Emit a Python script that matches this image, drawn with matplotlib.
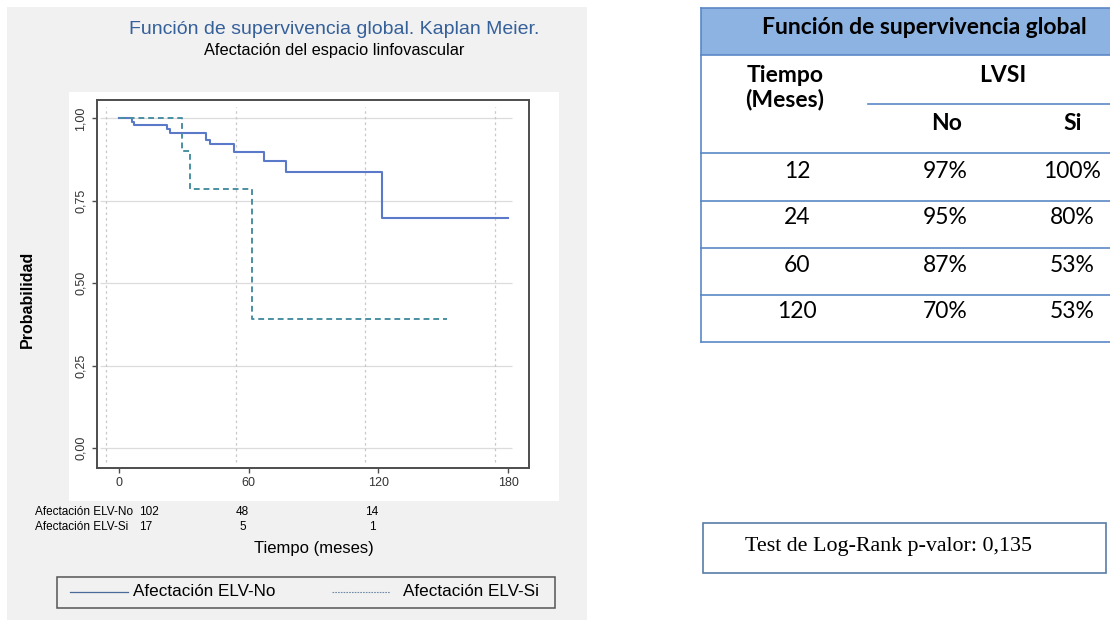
import matplotlib
matplotlib.use("Agg")
import matplotlib.pyplot as plt
from matplotlib.patches import Rectangle
from matplotlib.lines import Line2D
from matplotlib.transforms import blended_transform_factory

# Curvas de Kaplan-Meier: tiempo (meses) y supervivencia estimada
tiempo_no = [0, 6, 7, 22, 23.5, 40, 42, 53, 67, 77, 121.5, 180]
surv_no = [1.0, 0.99, 0.98, 0.967, 0.955, 0.935, 0.922, 0.899, 0.872, 0.838, 0.697, 0.697]
tiempo_si = [0, 29, 32.7, 61.6, 151.6]
surv_si = [1.0, 0.90, 0.786, 0.39, 0.39]

# Numero de pacientes en riesgo
riesgo_tiempos = [0, 60, 120]
riesgo_no = [102, 48, 14]
riesgo_si = [17, 5, 1]

# Tabla resumen de supervivencia (%)
tabla_tiempos = [12, 24, 60, 120]
tabla_no = [97, 95, 87, 70]
tabla_si = [100, 80, 53, 53]
p_valor = "0,135"

W, H = 1110, 620


def fx(px):
    return px / W


def fy(py):
    return 1 - py / H


fig = plt.figure(figsize=(W / 100, H / 100), dpi=100)
fig.patch.set_facecolor("white")

# fondo gris del panel de la izquierda y zona blanca del grafico
fig.patches.append(Rectangle((fx(7), fy(620)), fx(587) - fx(7), fy(7) - fy(620),
                             transform=fig.transFigure, facecolor="#f1f1f1", edgecolor="none", zorder=-3))
fig.patches.append(Rectangle((fx(69), fy(501)), fx(559) - fx(69), fy(92) - fy(501),
                             transform=fig.transFigure, facecolor="white", edgecolor="none", zorder=-2))

sans = "Liberation Sans"
fig.text(fx(334), fy(30), "Función de supervivencia global. Kaplan Meier.", ha="center", va="center",
         fontsize=14, color="#35609a", family=sans)
fig.text(fx(334), fy(50), "Afectación del espacio linfovascular", ha="center", va="center",
         fontsize=11.8, color="black", family=sans)

ax = fig.add_axes([fx(97), fy(468), fx(529) - fx(97), fy(100) - fy(468)])
ax.set_xlim(-10.3, 189.7)
ax.set_ylim(-0.061, 1.056)
ax.set_facecolor("white")
for s in ax.spines.values():
    s.set_color("#4d4d4d")
    s.set_linewidth(1.4)

ax.set_xticks([0, 60, 120, 180])
ax.set_yticks([0, 0.25, 0.5, 0.75, 1])
ax.set_yticklabels(["0,00", "0,25", "0,50", "0,75", "1,00"], rotation=90, va="center")
ax.tick_params(axis="both", length=3.5, width=1, color="#4d4d4d", labelsize=9, labelcolor="#333333")
ax.tick_params(axis="x", pad=3)
ax.tick_params(axis="y", pad=4)
for lab in ax.get_xticklabels() + ax.get_yticklabels():
    lab.set_family(sans)

# rejilla
grid_x = [-6, 54, 114, 174]
ax.hlines([0, 0.25, 0.5, 0.75, 1], -8.9, 181.8, color="#dcdcdc", lw=0.9, zorder=0)
ax.vlines(grid_x, -0.042, 1.035, color="#c8c8c8", lw=0.9, linestyle=(0, (2, 2.5)), zorder=0)

ax.step(tiempo_no, surv_no, where="post", color="#5a79c8", lw=1.5, zorder=3)
ax.step(tiempo_si, surv_si, where="post", color="#4b8fa2", lw=1.4, linestyle=(0, (3, 2)), zorder=3)

fig.text(fx(27), fy(299), "Probabilidad", rotation=90, ha="center", va="center",
         fontsize=11.5, fontweight="bold", color="black", family=sans)

# tabla de numero en riesgo
tr = blended_transform_factory(ax.transData, fig.transFigure)
fig.text(fx(35), fy(512), "Afectación ELV-No", ha="left", va="center", fontsize=8.5, family=sans)
fig.text(fx(35), fy(527), "Afectación ELV-Si", ha="left", va="center", fontsize=8.5, family=sans)
for i, t in enumerate(riesgo_tiempos):
    if i == 0:
        xpos, ha = t + 9, "left"
    else:
        xpos, ha = t - 3, "center"
    ax.text(xpos, fy(512), str(riesgo_no[i]), transform=tr, ha=ha, va="center", fontsize=8.5, family=sans)
    ax.text(xpos, fy(527), str(riesgo_si[i]), transform=tr, ha=ha, va="center", fontsize=8.5, family=sans)

fig.text(fx(314), fy(548), "Tiempo (meses)", ha="center", va="center", fontsize=12, family=sans)

# leyenda
fig.patches.append(Rectangle((fx(57), fy(608)), fx(555) - fx(57), fy(577) - fy(608),
                             transform=fig.transFigure, facecolor="#f1f1f1", edgecolor="#555555", lw=1.1))
fig.lines.append(Line2D([fx(70), fx(128)], [fy(592), fy(592)], transform=fig.transFigure,
                        color="#4a6a9a", lw=0.9))
fig.lines.append(Line2D([fx(332), fx(390)], [fy(592), fy(592)], transform=fig.transFigure,
                        color="#6f8aa8", lw=0.8, linestyle=(0, (1.5, 1))))
fig.text(fx(133), fy(592), "Afectación ELV-No", ha="left", va="center", fontsize=12.3, family=sans)
fig.text(fx(403), fy(592), "Afectación ELV-Si", ha="left", va="center", fontsize=12.3, family=sans)

# tabla resumen de la derecha
borde = "#5b87c5"
tfont = "Lato"
fs = 16.5
fig.patches.append(Rectangle((fx(701), fy(55)), fx(1112) - fx(701), fy(8) - fy(55),
                             transform=fig.transFigure, facecolor="#8db3e2", edgecolor="none"))
for yy in [8, 55, 153, 201, 248, 295, 342]:
    fig.lines.append(Line2D([fx(701), fx(1112)], [fy(yy), fy(yy)], transform=fig.transFigure,
                            color=borde, lw=1.2))
fig.lines.append(Line2D([fx(868), fx(1112)], [fy(104), fy(104)], transform=fig.transFigure,
                        color=borde, lw=1.2))
fig.lines.append(Line2D([fx(701), fx(701)], [fy(8), fy(342)], transform=fig.transFigure,
                        color=borde, lw=1.2))

fig.text(fx(924), fy(27), "Función de supervivencia global", ha="center", va="center",
         fontsize=fs, fontweight="bold", family=tfont)
fig.text(fx(785), fy(75), "Tiempo", ha="center", va="center", fontsize=fs, fontweight="bold", family=tfont)
fig.text(fx(785), fy(100), "(Meses)", ha="center", va="center", fontsize=fs, fontweight="bold", family=tfont)
fig.text(fx(1003), fy(75), "LVSI", ha="center", va="center", fontsize=fs, fontweight="bold", family=tfont)
fig.text(fx(947), fy(123), "No", ha="center", va="center", fontsize=fs, fontweight="bold", family=tfont)
fig.text(fx(1073), fy(123), "Si", ha="center", va="center", fontsize=fs, fontweight="bold", family=tfont)

filas_y = [171, 218, 265, 312]
for t, vn, vs, yy in zip(tabla_tiempos, tabla_no, tabla_si, filas_y):
    fig.text(fx(797), fy(yy), str(t), ha="center", va="center", fontsize=fs, family=tfont)
    fig.text(fx(945), fy(yy), f"{vn}%", ha="center", va="center", fontsize=fs, family=tfont)
    fig.text(fx(1072), fy(yy), f"{vs}%", ha="center", va="center", fontsize=fs, family=tfont)

# caja del test log-rank
fig.patches.append(Rectangle((fx(703), fy(573)), fx(1106) - fx(703), fy(523) - fy(573),
                             transform=fig.transFigure, facecolor="white", edgecolor="#5b7ca8", lw=1.2))
fig.text(fx(745), fy(547), f"Test de Log-Rank p-valor: {p_valor}", ha="left", va="center",
         fontsize=15.8, family="Liberation Serif")

fig.savefig("out.png", dpi=100)
